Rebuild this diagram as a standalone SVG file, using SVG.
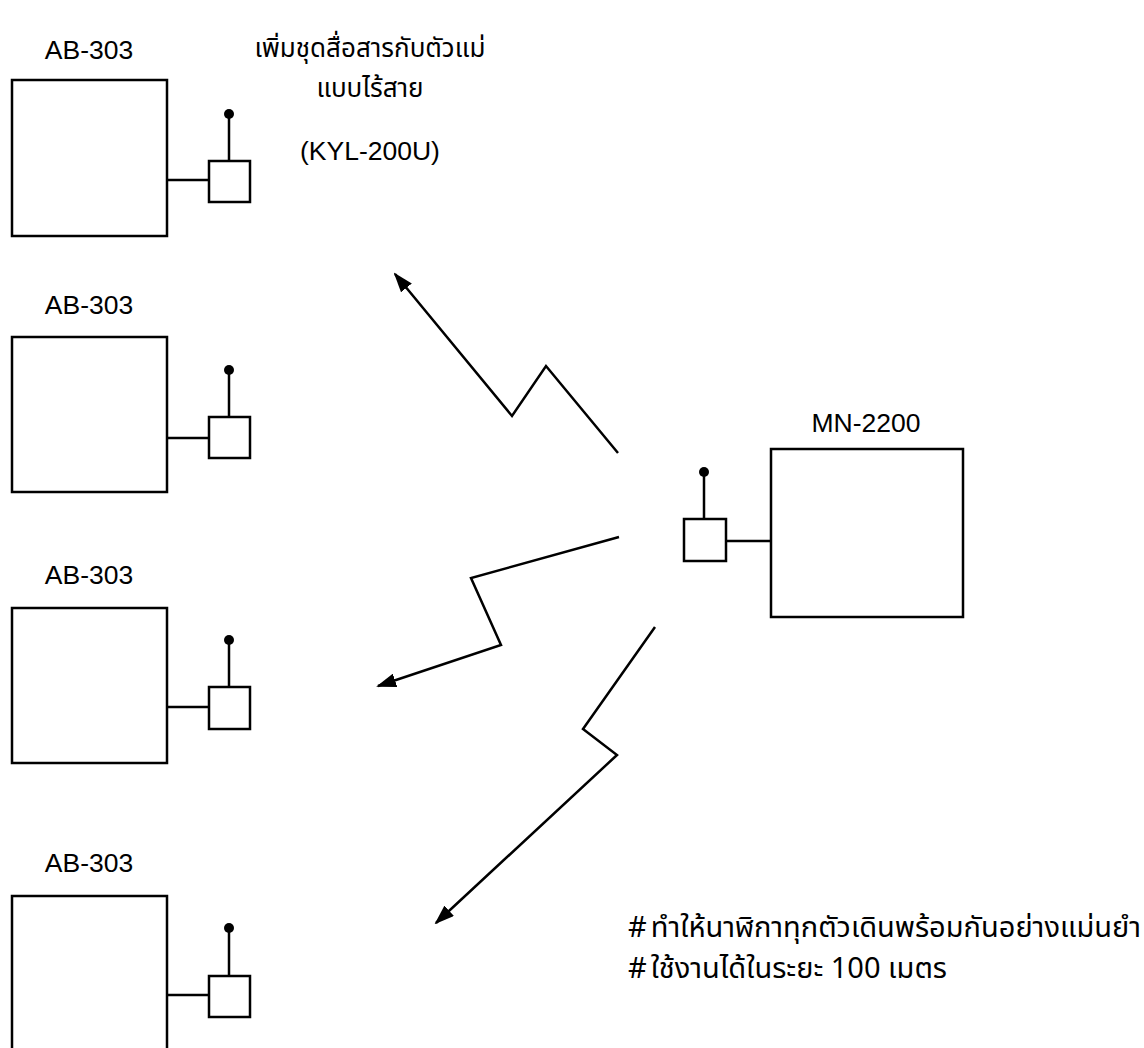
<svg xmlns="http://www.w3.org/2000/svg" width="1144" height="1048" viewBox="0 0 1144 1048">
<style>
.box{fill:#fff;stroke:#000;stroke-width:2.5}
.ln{fill:none;stroke:#000;stroke-width:2.5}
.lbl{font-family:"Liberation Sans",Arial,sans-serif;font-size:26.5px;fill:#000}
.th{font-family:"Noto Sans Thai","Noto Sans","DejaVu Sans",sans-serif;font-size:26px;fill:#000}
.thb{font-family:"Noto Sans Thai","Noto Sans","DejaVu Sans",sans-serif;font-size:29px;fill:#000}
.arr{fill:none;stroke:#000;stroke-width:2.5;stroke-linejoin:miter}
</style>
<defs>
<marker id="ah" markerWidth="20" markerHeight="14" refX="18" refY="7" orient="auto" markerUnits="userSpaceOnUse">
<path d="M0,0 L20,7 L0,14 Z" fill="#000"/>
</marker>
</defs>
<rect width="1144" height="1048" fill="#fff"/>

<g id="ab1">
<text class="lbl" x="89" y="59" text-anchor="middle">AB-303</text>
<rect class="box" x="12" y="80" width="155" height="156"/>
<line class="ln" x1="167" y1="180" x2="209" y2="180"/>
<rect class="box" x="209" y="161" width="41" height="41"/>
<line class="ln" x1="229" y1="161" x2="229" y2="114"/>
<circle cx="229" cy="114" r="5"/>
</g>
<g id="ab2">
<text class="lbl" x="89" y="314" text-anchor="middle">AB-303</text>
<rect class="box" x="12" y="337" width="155" height="155"/>
<line class="ln" x1="167" y1="438" x2="209" y2="438"/>
<rect class="box" x="209" y="417" width="41" height="41"/>
<line class="ln" x1="229" y1="417" x2="229" y2="370"/>
<circle cx="229" cy="370" r="5"/>
</g>
<g id="ab3">
<text class="lbl" x="89" y="584" text-anchor="middle">AB-303</text>
<rect class="box" x="12" y="608" width="155" height="155"/>
<line class="ln" x1="167" y1="707" x2="209" y2="707"/>
<rect class="box" x="209" y="687" width="41" height="42"/>
<line class="ln" x1="229" y1="687" x2="229" y2="640"/>
<circle cx="229" cy="640" r="5"/>
</g>
<g id="ab4">
<text class="lbl" x="89" y="872" text-anchor="middle">AB-303</text>
<rect class="box" x="12" y="896" width="155" height="160"/>
<line class="ln" x1="167" y1="995" x2="209" y2="995"/>
<rect class="box" x="209" y="976" width="41" height="41"/>
<line class="ln" x1="229" y1="976" x2="229" y2="928"/>
<circle cx="229" cy="928" r="5"/>
</g>
<g id="mn">
<text class="lbl" x="866" y="432" text-anchor="middle">MN-2200</text>
<rect class="box" x="771" y="449" width="192" height="168"/>
<line class="ln" x1="726" y1="541" x2="771" y2="541"/>
<rect class="box" x="684" y="519" width="42" height="42"/>
<line class="ln" x1="704" y1="519" x2="704" y2="472"/>
<circle cx="704" cy="472" r="5"/>
</g>
<g id="note-top">
<text class="th" x="370" y="57" text-anchor="middle">เพิ่มชุดสื่อสารกับตัวแม่</text>
<text class="th" x="370" y="97" text-anchor="middle">แบบไร้สาย</text>
<text class="lbl" x="370" y="160" text-anchor="middle">(KYL-200U)</text>
</g>
<g id="note-bottom">
<text class="thb" x="628" y="937">#<tspan dx="4">ทำให้นาฬิกาทุกตัวเดินพร้อมกันอย่างแม่นยำ</tspan></text>
<text class="thb" x="628" y="978">#<tspan dx="4">ใช้งานได้ในระยะ 100 เมตร</tspan></text>
</g>
<g id="connectors">
<path class="arr" d="M618,453 L546,366 L512,416 L395,274" marker-end="url(#ah)"/>
<path class="arr" d="M619,537 L471,578 L501,645 L378,686" marker-end="url(#ah)"/>
<path class="arr" d="M655,627 L583,729 L617,755 L436,923" marker-end="url(#ah)"/>
</g>
</svg>
